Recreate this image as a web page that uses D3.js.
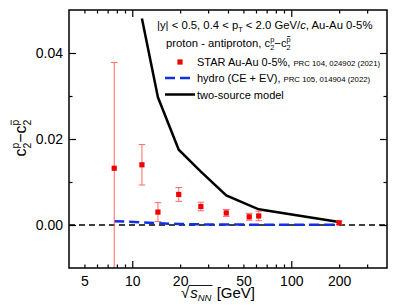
<!DOCTYPE html>
<html>
<head>
<meta charset="utf-8" />
<title>c2 difference</title>
<script src="https://cdn.jsdelivr.net/npm/d3@7"></script>
<style>
  body { margin: 0; background: #fff; }
  text { font-family: "Liberation Sans", Arial, sans-serif; fill: #000; white-space: pre; }
</style>
</head>
<body>
<svg width="397" height="308"></svg>
<script>
// STAR data (Au-Au 0-5%)
const starEnergy = [7.7, 11.5, 14.5, 19.6, 27, 39, 54.4, 62.4, 200];
const starValue  = [0.0132, 0.0140, 0.0030, 0.0071, 0.0043, 0.0028, 0.0019, 0.0021, 0.0005];
const starError  = [0.0246, 0.0047, 0.0022, 0.0016, 0.0010, 0.0008, 0.0008, 0.0011, 0.0004];

// hydro (CE + EV)
const hydroEnergy = [7.7, 11.5, 14.5, 19.6, 27, 39, 62.4, 200];
const hydroValue  = [0.0009, 0.0006, 0.0004, 0.00025, 0.00015, 0.0001, 0.00008, 0.00005];

// two-source model
const modelEnergy = [11.5, 14.5, 19.6, 27, 39, 62.4, 200];
const modelValue  = [0.0480, 0.0297, 0.0175, 0.0124, 0.0069, 0.00365, 0.0007];

const xLabelTicks = [5, 10, 20, 50, 100, 200];
const xMajorTicks = [10, 100];
const xMinorTicks = [5, 6, 7, 8, 9, 20, 30, 40, 50, 60, 70, 80, 90, 200, 300];
const yLabelTicks = [0, 0.02, 0.04];
const yMinorTicks = [0.01, 0.03];

const svg = d3.select("svg");
const width = +svg.attr("width");
const height = +svg.attr("height");
const margin = {top: 10, right: 10, bottom: 40, left: 69};
const innerWidth = width - margin.left - margin.right;
const innerHeight = height - margin.top - margin.bottom;

const x = d3.scaleLog().domain([4, 400]).range([0, innerWidth]);
const y = d3.scaleLinear().domain([-0.01, 0.05]).range([innerHeight, 0]);

const g = svg.append("g").attr("transform", `translate(${margin.left},${margin.top})`);

// clip for data
g.append("clipPath").attr("id", "clip")
  .append("rect").attr("width", innerWidth).attr("height", innerHeight);
const plot = g.append("g").attr("clip-path", "url(#clip)");

// ticks (inside, on all four sides)
const tickAxis = (axis, scale, values, size, transform) => {
  const a = g.append("g").attr("transform", transform)
    .call(axis(scale).tickValues(values).tickSize(size).tickFormat(""));
  a.select(".domain").remove();
  a.selectAll(".tick text").remove();
  a.selectAll(".tick line").attr("stroke", "#000").attr("stroke-width", 1.2);
};
tickAxis(d3.axisBottom, x, xMajorTicks, -7, `translate(0,${innerHeight})`);
tickAxis(d3.axisBottom, x, xMinorTicks, -3.5, `translate(0,${innerHeight})`);
tickAxis(d3.axisTop, x, xMajorTicks, -7, "translate(0,0)");
tickAxis(d3.axisTop, x, xMinorTicks, -3.5, "translate(0,0)");
tickAxis(d3.axisLeft, y, yLabelTicks, -7, "translate(0,0)");
tickAxis(d3.axisLeft, y, yMinorTicks, -3.5, "translate(0,0)");
tickAxis(d3.axisRight, y, yLabelTicks, -7, `translate(${innerWidth},0)`);
tickAxis(d3.axisRight, y, yMinorTicks, -3.5, `translate(${innerWidth},0)`);

// tick labels
const xl = g.append("g").attr("transform", `translate(0,${innerHeight})`)
  .call(d3.axisBottom(x).tickValues(xLabelTicks).tickSize(0).tickPadding(8).tickFormat(d3.format("d")));
xl.select(".domain").remove();
xl.selectAll("text").attr("font-size", 14).attr("font-family", null);

const yl = g.append("g")
  .call(d3.axisLeft(y).tickValues(yLabelTicks).tickSize(0).tickPadding(6).tickFormat(d3.format(".2f")));
yl.select(".domain").remove();
yl.selectAll("text").attr("font-size", 14).attr("font-family", null);

// zero line
plot.append("line")
  .attr("x1", 0).attr("x2", innerWidth)
  .attr("y1", y(0)).attr("y2", y(0))
  .attr("stroke", "#000").attr("stroke-width", 1.3).attr("stroke-dasharray", "6,4");

// hydro
const hydro = hydroEnergy.map((e, i) => [e, hydroValue[i]]);
plot.append("path").datum(hydro)
  .attr("d", d3.line().x(d => x(d[0])).y(d => y(d[1])))
  .attr("fill", "none").attr("stroke", "#1030e8").attr("stroke-width", 2.5)
  .attr("stroke-dasharray", "10,5");

// two-source model
const model = modelEnergy.map((e, i) => [e, modelValue[i]]);
plot.append("path").datum(model)
  .attr("d", d3.line().x(d => x(d[0])).y(d => y(d[1])))
  .attr("fill", "none").attr("stroke", "#000").attr("stroke-width", 2.5);

// STAR points with error bars
const star = starEnergy.map((e, i) => ({e, v: starValue[i], err: starError[i]}));
const eb = plot.selectAll(".eb").data(star).enter().append("g").attr("class", "eb");
eb.append("line")
  .attr("x1", d => x(d.e)).attr("x2", d => x(d.e))
  .attr("y1", d => y(d.v - d.err)).attr("y2", d => y(d.v + d.err));
eb.append("line")
  .attr("x1", d => x(d.e) - 3.3).attr("x2", d => x(d.e) + 3.3)
  .attr("y1", d => y(d.v + d.err)).attr("y2", d => y(d.v + d.err));
eb.append("line")
  .attr("x1", d => x(d.e) - 3.3).attr("x2", d => x(d.e) + 3.3)
  .attr("y1", d => y(d.v - d.err)).attr("y2", d => y(d.v - d.err));
eb.selectAll("line").attr("stroke", "#ff6a6a").attr("stroke-width", 1);
plot.selectAll(".pt").data(star).enter().append("rect")
  .attr("x", d => x(d.e) - 2.6).attr("y", d => y(d.v) - 2.6)
  .attr("width", 5.2).attr("height", 5.2).attr("fill", "#f00000");

// frame
g.append("rect").attr("width", innerWidth).attr("height", innerHeight)
  .attr("fill", "none").attr("stroke", "#000").attr("stroke-width", 1.5);

// sequential text pieces helper (for sub/superscripts)
function seq(parent, x0, y0, parts) {
  let cx = x0, lastStart = x0;
  parts.forEach(p => {
    const px = p.stack ? lastStart : cx;
    const t = parent.append("text").attr("x", px).attr("y", y0 + (p.dy || 0))
      .attr("font-size", p.fs).text(p.t);
    if (p.it) t.attr("font-style", "italic");
    const w = t.node().getComputedTextLength();
    if (p.bar) {
      const by = y0 + (p.dy || 0) - p.fs * 0.78;
      parent.append("line").attr("x1", px + 0.5).attr("x2", px + w - 0.3)
        .attr("y1", by).attr("y2", by).attr("stroke", "#000").attr("stroke-width", 0.8);
    }
    if (p.stack) cx = Math.max(cx, px + w);
    else { lastStart = px; cx = px + w; }
  });
  return cx;
}
const c2diff = (fs) => [
  {t: "c", fs: fs},
  {t: "2", fs: fs * 0.65, dy: fs * 0.3},
  {t: "p", fs: fs * 0.65, dy: -fs * 0.42, stack: true},
  {t: "\u2212", fs: fs},
  {t: "c", fs: fs},
  {t: "2", fs: fs * 0.65, dy: fs * 0.3},
  {t: "p", fs: fs * 0.65, dy: -fs * 0.42, stack: true, bar: true}
];

// header text
const fsT = 11.3;
seq(svg, 157, 29, [
  {t: "|y| < 0.5, 0.4 < p", fs: fsT},
  {t: "T", fs: fsT * 0.65, dy: fsT * 0.3},
  {t: " < 2.0 GeV/", fs: fsT},
  {t: "c", fs: fsT, it: true},
  {t: ", Au-Au 0-5%", fs: fsT}
]);
seq(svg, 166, 47, [{t: "proton - antiproton, ", fs: fsT}].concat(c2diff(fsT)));

// legend
const lg = svg.append("g");
lg.append("rect").attr("x", 180 - 2.6).attr("y", 62 - 2.6).attr("width", 5.2).attr("height", 5.2).attr("fill", "#f00000");
seq(lg, 197, 66, [{t: "STAR Au-Au 0-5%, ", fs: 11}, {t: "PRC 104, 024902 (2021)", fs: 7.8}]);
lg.append("line").attr("x1", 165).attr("x2", 194).attr("y1", 78).attr("y2", 78)
  .attr("stroke", "#1030e8").attr("stroke-width", 2.5).attr("stroke-dasharray", "10,5");
seq(lg, 197, 82, [{t: "hydro (CE + EV), ", fs: 11}, {t: "PRC 105, 014904 (2022)", fs: 7.8}]);
lg.append("line").attr("x1", 165).attr("x2", 195).attr("y1", 94.5).attr("y2", 94.5)
  .attr("stroke", "#000").attr("stroke-width", 2.5);
seq(lg, 197, 98.5, [{t: "two-source model", fs: 11}]);

// x axis title
const xt = svg.append("g");
const sq = xt.append("text").attr("x", 0).attr("y", 0).attr("font-size", 15).text("\u221A");
const sqW = sq.node().getComputedTextLength();
const endX = seq(xt, sqW + 1, 0, [
  {t: "s", fs: 15, it: true},
  {t: "NN", fs: 9.5, dy: 3, it: true}
]);
xt.append("line").attr("x1", sqW - 0.5).attr("x2", endX + 1).attr("y1", -12.5).attr("y2", -12.5)
  .attr("stroke", "#000").attr("stroke-width", 0.9);
seq(xt, endX + 1, 0, [{t: " [GeV]", fs: 15}]);
const xb = xt.node().getBBox();
xt.attr("transform", `translate(${218 - xb.width / 2 - xb.x},298)`);

// y axis title
const yt = svg.append("g");
seq(yt, 0, 0, c2diff(16));
const yb = yt.node().getBBox();
yt.attr("transform", `translate(${26},${138}) rotate(-90) translate(${-yb.width / 2 - yb.x},0)`);
</script>
</body>
</html>
